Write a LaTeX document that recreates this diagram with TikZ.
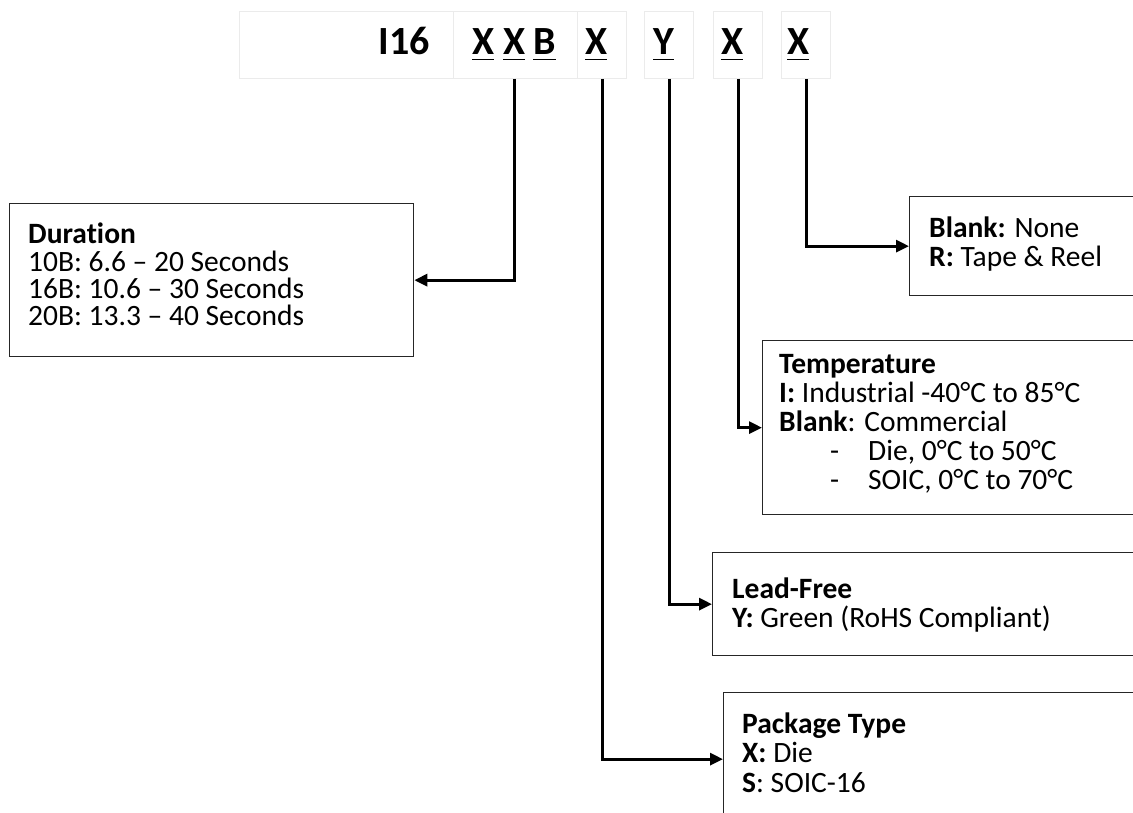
\documentclass[tikz,border=0pt]{standalone}
\usepackage{fontspec}
\setmainfont{Carlito}[Ligatures={TeX,NoCommon}]
\usetikzlibrary{arrows.meta}
\lineskiplimit=-100pt
\newcommand{\lns}[1]{\vtop{\lineskiplimit=-100pt #1}}
\begin{document}
\begin{tikzpicture}[x=1pt,y=-1pt,
  topbox/.style={draw=black!8, line width=1pt, minimum height=67pt, inner sep=0pt, anchor=north west},
  infobox/.style={draw=black!85, line width=1.3pt, inner sep=0pt, anchor=north west},
  code/.style={font=\fontsize{40}{42}\selectfont\bfseries, inner sep=0pt, anchor=base west},
  conn/.style={line width=3pt, -{Triangle[length=13pt,width=12pt]}},
  body/.style={inner sep=0pt, anchor=base west}
]
\useasboundingbox (0,0) rectangle (1133,813);
\clip (0,0) rectangle (1133,813);

% top row of code boxes
\node[topbox, minimum width=214pt] (t1) at (239,11) {};
\node[topbox, minimum width=124pt] (t2) at (453,11) {};
\node[topbox, minimum width=49pt] (t3) at (577,11) {};
\node[topbox, minimum width=49pt] (t4) at (644,11) {};
\node[topbox, minimum width=49pt] (t5) at (713,11) {};
\node[topbox, minimum width=49pt] (t6) at (781,11) {};

\node[code, anchor=base east] (i16) at (430,55) {I16};
\node[code] (c1) at (472,55) {X};
\node[code] (c2) at (503,55) {X};
\node[code] (c3) at (533,55) {B};
\node[code] (c4) at (585,55) {X};
\node[code] (c5) at (653,55) {Y};
\node[code] (c6) at (721,55) {X};
\node[code] (c7) at (787,55) {X};
\foreach \n in {c1,c2,c3,c4,c5,c6,c7}
  \draw[line width=1.8pt] ([yshift=-4.5pt]\n.base west) -- ([yshift=-4.5pt]\n.base east);

% information boxes
\node[infobox, minimum width=404pt, minimum height=153pt] (dur) at (9,203) {};
\node[infobox, minimum width=260pt, minimum height=99pt] (blank) at (909,196) {};
\node[infobox, minimum width=400pt, minimum height=174pt] (temp) at (762,340) {};
\node[infobox, minimum width=450pt, minimum height=103pt] (lead) at (712,552) {};
\node[infobox, minimum width=450pt, minimum height=133pt] (pkg) at (723,692) {};

\node[body, font=\fontsize{29.5}{27.3}\selectfont] (durtxt) at (28,244) {\lns{\hbox{\textbf{Duration}}
\hbox{10B: 6.6 – 20 Seconds}
\hbox{16B: 10.6 – 30 Seconds}
\hbox{20B: 13.3 – 40 Seconds}}};

\node[body, font=\fontsize{29.5}{29}\selectfont] (blanktxt) at (929,238) {\lns{\hbox{\textbf{Blank:} None}
\hbox{\textbf{R:} Tape \& Reel}}};

\node[body, font=\fontsize{29.5}{29}\selectfont] (temptxt) at (779,373) {\lns{\hbox{\textbf{Temperature}}
\hbox{\textbf{I:} Industrial -40°C to 85°C}
\hbox{\textbf{Blank}: Commercial}
\hbox{\makebox[89pt][l]{\hspace*{51pt}-}Die, 0°C to 50°C}
\hbox{\makebox[89pt][l]{\hspace*{51pt}-}SOIC, 0°C to 70°C}}};

\node[body, font=\fontsize{29.5}{29}\selectfont] (leadtxt) at (732,598) {\lns{\hbox{\textbf{Lead-Free}}
\hbox{\textbf{Y:} Green (RoHS Compliant)}}};

\node[body, font=\fontsize{29.5}{29.5}\selectfont] (pkgtxt) at (742,733) {\lns{\hbox{\textbf{Package Type}}
\hbox{\textbf{X:} Die}
\hbox{\textbf{S}: SOIC-16}}};

% connectors
\draw[conn] (c2 |- t2.south) |- (dur.east);
\draw[conn] (t3.south) |- (pkg.west);
\draw[conn] (t4.south) |- (lead.west);
\draw[conn] (t5.south) |- (temp.west);
\draw[conn] (t6.south) |- (blank.west);
\end{tikzpicture}
\end{document}
